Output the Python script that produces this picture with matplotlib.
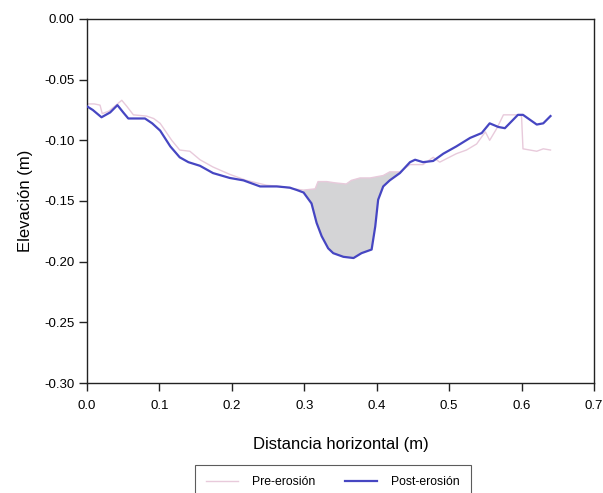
import numpy as np
import matplotlib.pyplot as plt

plt.rcParams['font.family'] = ['Liberation Sans', 'DejaVu Sans']

# perfil del terreno antes de la erosión
pre_x = [0.000, 0.010, 0.018, 0.021, 0.030, 0.040, 0.048, 0.055, 0.064, 0.082,
         0.092, 0.101, 0.117, 0.128, 0.142, 0.156, 0.174, 0.197, 0.220, 0.248,
         0.267, 0.285, 0.299, 0.315, 0.319, 0.331, 0.342, 0.358, 0.365, 0.377,
         0.391, 0.409, 0.418, 0.432, 0.446, 0.464, 0.478, 0.487, 0.510, 0.524,
         0.538, 0.550, 0.556, 0.566, 0.575, 0.596, 0.600, 0.602, 0.621, 0.630,
         0.640]
pre_y = [-0.070, -0.070, -0.071, -0.078, -0.076, -0.071, -0.067, -0.072, -0.079, -0.080,
         -0.082, -0.086, -0.100, -0.108, -0.109, -0.116, -0.122, -0.128, -0.133, -0.137,
         -0.138, -0.140, -0.141, -0.140, -0.134, -0.134, -0.135, -0.136, -0.133, -0.131,
         -0.131, -0.129, -0.126, -0.126, -0.120, -0.120, -0.114, -0.118, -0.111, -0.108,
         -0.103, -0.093, -0.100, -0.090, -0.079, -0.079, -0.080, -0.107, -0.109, -0.107,
         -0.108]

# perfil del terreno después de la erosión
post_x = [0.000, 0.008, 0.020, 0.032, 0.042, 0.050, 0.057, 0.070, 0.080, 0.090,
          0.101, 0.115, 0.128, 0.140, 0.156, 0.174, 0.197, 0.216, 0.239, 0.262,
          0.280, 0.290, 0.299, 0.310, 0.317, 0.324, 0.333, 0.340, 0.354, 0.368,
          0.379, 0.393, 0.398, 0.402, 0.409, 0.418, 0.432, 0.446, 0.453, 0.464,
          0.478, 0.492, 0.510, 0.529, 0.545, 0.556, 0.568, 0.577, 0.595, 0.602,
          0.621, 0.630, 0.640]
post_y = [-0.072, -0.075, -0.081, -0.077, -0.071, -0.077, -0.082, -0.082, -0.082, -0.086,
          -0.092, -0.105, -0.114, -0.118, -0.121, -0.127, -0.131, -0.133, -0.138, -0.138,
          -0.139, -0.141, -0.143, -0.152, -0.168, -0.179, -0.189, -0.193, -0.196, -0.197,
          -0.193, -0.190, -0.171, -0.149, -0.138, -0.133, -0.127, -0.118, -0.116, -0.118,
          -0.117, -0.111, -0.105, -0.098, -0.094, -0.086, -0.089, -0.090, -0.079, -0.079,
          -0.087, -0.086, -0.080]

# tramo erosionado (zona sombreada)
gap_start, gap_end = 0.299, 0.432

pre_x = np.array(pre_x)
pre_y = np.array(pre_y)
post_x = np.array(post_x)
post_y = np.array(post_y)

fig = plt.figure(figsize=(6.03, 4.93), dpi=100)
ax = fig.add_axes([0.1443, 0.2231, 0.8407, 0.7384])

# polígono entre ambos perfiles
m_pre = (pre_x >= gap_start) & (pre_x <= gap_end)
m_post = (post_x >= gap_start) & (post_x <= gap_end)
poly_x = np.concatenate([pre_x[m_pre], post_x[m_post][::-1]])
poly_y = np.concatenate([pre_y[m_pre], post_y[m_post][::-1]])
ax.fill(poly_x, poly_y, color='#d4d4d6', lw=0, zorder=1)

ax.plot(pre_x, pre_y, color='#e8cadb', lw=1.0, label='Pre-erosión', zorder=2)
ax.plot(post_x, post_y, color='#4646c2', lw=1.6, label='Post-erosión', zorder=3)

ax.set_xlim(0, 0.7)
ax.set_ylim(-0.30, 0.0)
ax.set_xticks(np.arange(0, 0.71, 0.1))
ax.set_yticks(np.arange(-0.30, 0.001, 0.05))
ax.xaxis.set_major_formatter(plt.FuncFormatter(lambda v, p: '0.0' if abs(v) < 1e-9 else f'{v:.1f}'))
ax.yaxis.set_major_formatter(plt.FuncFormatter(lambda v, p: '0.00' if abs(v) < 1e-9 else f'{v:.2f}'))
ax.tick_params(direction='out', length=6, width=1, labelsize=9.5, color='#222222', pad=3)
ax.tick_params(axis='x', pad=6)
for s in ax.spines.values():
    s.set_linewidth(1.0)
    s.set_color('#222222')

ax.set_xlabel('Distancia horizontal (m)', fontsize=12, labelpad=18)
ax.set_ylabel('Elevación (m)', fontsize=12, labelpad=8)

leg = fig.legend(loc='center', bbox_to_anchor=(0.552, 0.022), ncol=2, fontsize=8.8,
                 frameon=True, fancybox=False, edgecolor='#333333',
                 handlelength=2.6, handletextpad=1.2, columnspacing=2.4, borderpad=0.9)
leg.get_frame().set_linewidth(0.8)

fig.savefig('out.png', dpi=100)
